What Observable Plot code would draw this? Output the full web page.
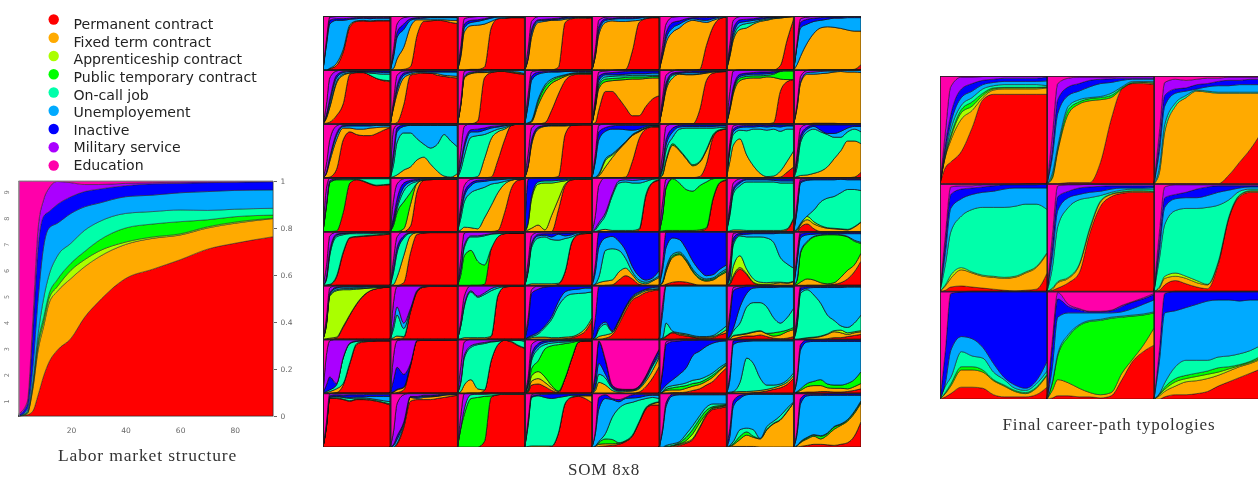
<!DOCTYPE html>
<html><head><meta charset="utf-8">
<script src="https://cdn.jsdelivr.net/npm/d3@7"></script>
<script src="https://cdn.jsdelivr.net/npm/@observablehq/plot@0.6"></script>
<style>
html,body{margin:0;padding:0;background:#fff}
#page{position:relative;width:1258px;height:481px;overflow:hidden;filter:blur(.35px)}
.at{position:absolute}
.cap{position:absolute;font-family:"Liberation Serif",serif;color:#333;white-space:nowrap;transform:translateX(-50%);font-size:17px;letter-spacing:.8px}
svg{display:block;max-width:none!important}
</style></head><body><div id="page"></div>
<script>
const states=["Permanent contract","Fixed term contract","Apprenticeship contract","Public temporary contract","On-call job","Unemployement","Inactive","Military service","Education"];
const stateColors=["#ff0000","#ffaa00","#aaff00","#00ff00","#00ffaa","#00aaff","#0000ff","#aa00ff","#ff00aa"];
const stateKeys=["R","O","A","P","C","U","I","M"];
// sample positions, percent of the observation window (all boundaries start at 0)
const T=[5,10,20,30,40,50,60,70,80,90,100];

// SOM 8x8: cumulative tops of each state, row by row
const s11={R:[0,2,8,33,80,90,91,90,91,91,91],O:[0,3,12,38,84,91,92,91,92,92,92],U:[45,85,92,92,94,95,96,95,96,96,96],I:[50,92,95,95,96,97,97,97,97,97,97],M:[55,98,99,100,100,100,100,100,100,100,100]};
const s12={R:[0,0,1,6,65,90,91,92,91,88,86],O:[3,20,42,80,93,93,93,93,93,92,92],U:[25,60,75,92,95,96,97,97,97,97,97],I:[30,70,85,95,97,98,98,98,98,98,98],M:[40,85,97,99,100,100,100,100,100,100,100]};
const s13={R:[0,0,1,1,5,78,95,96,97,97,97],O:[25,70,82,83,85,90,95,96,97,97,97],U:[30,78,88,90,93,96,98,98,98,98,98],I:[35,85,92,93,95,98,99,99,99,99,99],M:[45,95,98,99,100,100,100,100,100,100,100]};
const s14={R:[0,0,0,0,0,5,88,95,96,96,97],O:[20,60,88,90,92,92,94,96,97,97,97],U:[22,68,91,92,93,94,96,97,98,98,98],I:[25,75,93,94,95,96,98,99,99,99,99],M:[40,90,99,100,100,100,100,100,100,100,100]};
const s15={R:[0,0,0,0,0,1,35,88,95,97,97],O:[25,65,88,91,90,90,91,92,96,97,97],U:[28,72,92,94,95,95,95,96,98,98,98],I:[30,80,95,96,97,97,97,98,99,99,99],M:[40,92,98,99,100,100,100,100,100,100,100]};
const s16={R:[0,0,0,0,0,0,1,45,80,95,98],O:[25,50,70,78,88,92,90,88,92,96,98],U:[28,58,78,85,92,95,93,92,95,98,99],I:[33,68,88,91,95,97,97,97,98,99,99],M:[45,85,98,99,100,100,100,100,100,100,100]};
const s17={R:[0,0,0,0,0,0,0,0,8,55,95],O:[25,55,75,78,85,90,92,95,96,98,99],C:[28,60,82,86,88,92,94,96,97,98,99],U:[32,66,88,90,92,94,96,97,98,99,99],I:[36,76,93,94,95,97,98,98,99,99,100],M:[48,92,99,100,100,100,100,100,100,100,100]};
const s18={R:[0,0,0,0,0,0,0,0,0,1,10],O:[10,25,50,68,78,80,79,77,74,72,72],U:[45,78,85,90,92,94,96,96,97,97,97],I:[48,88,94,96,97,98,98,98,99,99,99],M:[52,95,98,99,99,100,100,100,100,100,100]};
const s21={R:[1,3,15,37,92,95,95,90,84,80,78],O:[10,30,75,90,94,95,95,90,84,81,80],C:[12,33,78,92,95,96,96,94,93,92,92],U:[15,40,85,95,97,97,97,96,96,95,95],I:[17,46,90,97,98,98,98,98,98,98,98],M:[35,85,98,100,100,100,100,100,100,100,100]};
const s22={R:[0,2,35,90,93,94,94,90,88,86,85],O:[30,55,85,92,95,95,94,93,90,89,88],U:[33,62,90,95,97,97,96,96,96,96,96],I:[36,70,94,97,98,98,98,98,98,98,98],M:[45,90,98,99,100,100,100,100,100,100,100]};
const s23={R:[0,0,0,5,85,95,97,97,95,93,91],O:[35,85,93,95,95,96,97,97,96,94,92],A:[36,86,94,96,96,97,98,98,97,96,93],U:[38,88,96,97,98,99,99,99,99,99,99],M:[42,97,100,100,100,100,100,100,100,100,100]};
const s24={R:[0,0,0,2,25,55,80,90,92,92,92],O:[1,3,35,60,75,82,88,92,93,93,93],P:[1,4,42,68,80,86,90,93,94,94,94],C:[2,6,46,72,83,88,91,94,95,95,95],U:[35,80,92,95,96,96,97,97,97,97,97],I:[40,88,96,97,98,98,98,99,99,99,99],M:[55,96,99,100,100,100,100,100,100,100,100]};
const s25={R:[2,25,60,60,47,30,15,15,32,46,52],O:[30,65,78,80,81,82,83,83,84,85,85],P:[33,70,83,84,85,86,87,87,87,88,88],C:[35,74,87,88,89,89,90,90,90,90,90],U:[38,80,91,91,91,92,93,93,93,94,94],I:[42,88,94,95,96,97,98,98,98,98,98],M:[50,96,98,99,100,100,100,100,100,100,100]};
const s26={R:[0,0,0,0,0,0,25,80,94,96,97],O:[30,62,85,92,91,91,92,94,96,97,97],C:[32,66,90,93,92,92,93,95,97,97,98],U:[34,70,92,94,95,95,95,96,98,98,98],I:[38,76,94,96,97,98,98,98,99,99,99],M:[50,90,98,100,100,100,100,100,100,100,100]};
const s27={R:[0,0,0,0,0,0,0,2,60,78,82],O:[25,55,80,84,85,85,87,86,83,82,82],P:[28,60,85,88,89,89,90,92,97,98,98],U:[30,63,88,91,92,92,93,94,98,99,99],I:[33,68,92,94,95,96,96,97,99,100,100],M:[60,98,100,100,100,100,100,100,100,100,100]};
const s28={R:[0,0,0,1,1,1,1,0,0,0,0],O:[30,75,92,92,93,94,96,97,96,96,95],U:[33,78,95,96,97,98,98,99,99,99,99],M:[38,88,99,100,100,100,100,100,100,100,100]};
const s31={R:[0,1,15,70,85,80,78,78,82,88,93],O:[7,30,70,92,92,90,90,92,93,94,94],U:[9,35,78,95,96,96,96,96,97,97,97],I:[10,38,82,97,98,98,98,98,98,98,98],M:[25,70,96,100,100,100,100,100,100,100,100]};
const s32={O:[2,5,14,20,33,38,25,12,3,1,8],C:[25,65,83,83,72,62,55,62,80,68,57],U:[40,85,95,97,97,97,97,97,97,97,97],I:[50,92,98,98,98,98,98,98,98,98,98],M:[90,98,100,100,100,100,100,100,100,100,100]};
const s33={R:[0,0,0,0,0,1,32,70,97,99,99],O:[0,0,0,2,35,72,85,90,97,99,99],C:[15,40,75,78,80,85,90,93,98,100,100],U:[25,55,85,85,88,92,94,96,99,100,100],I:[30,62,89,90,92,95,96,97,99,100,100],M:[50,95,100,100,100,100,100,100,100,100,100]};
const s34={R:[0,0,0,0,0,2,80,97,98,98,98],O:[20,60,90,95,96,96,96,97,98,98,98],U:[22,64,92,96,97,97,97,98,98,99,99],I:[25,70,94,97,98,98,98,99,99,99,99],M:[45,92,100,100,100,100,100,100,100,100,100]};
const s35={R:[0,0,0,0,0,1,30,72,90,94,94],O:[0,3,20,37,52,65,78,85,92,95,95],A:[0,5,32,42,53,66,79,86,92,95,95],C:[1,7,35,44,55,67,80,87,93,96,96],U:[30,70,86,90,90,89,88,90,95,97,97],I:[35,85,93,96,97,97,97,97,98,98,98],M:[45,97,100,100,100,100,100,100,100,100,100]};
const s36={R:[0,0,0,0,0,0,2,25,75,88,90],O:[5,30,60,50,35,22,28,50,78,88,90],P:[7,33,63,52,37,24,30,52,80,89,91],C:[15,50,75,90,92,92,92,92,92,93,93],U:[20,60,85,94,95,95,95,95,95,96,96],I:[25,70,92,97,98,98,98,98,98,98,98],M:[45,95,100,100,100,100,100,100,100,100,100]};
const s37={R:[0,0,0,0,0,0,0,0,1,10,20],O:[30,60,72,42,22,8,2,3,12,30,50],C:[50,80,88,87,90,90,88,90,86,90,90],U:[55,85,93,94,94,95,94,95,94,96,96],I:[58,90,96,97,97,98,97,98,98,98,98],M:[65,96,99,100,100,100,100,100,100,100,100]};
const s38={R:[0,0,0,0,0,0,0,0,0,1,10],O:[2,4,5,8,12,20,35,50,68,68,63],C:[20,65,85,90,85,80,75,75,85,90,85],U:[30,70,90,95,88,82,82,86,92,95,95],I:[35,78,94,98,98,98,98,98,98,98,98],M:[45,92,99,100,100,100,100,100,100,100,100]};
const s41={R:[0,0,1,35,90,96,93,88,85,86,87],P:[45,90,96,96,96,97,94,89,86,87,88],C:[48,92,97,98,98,98,98,98,98,98,98],U:[50,94,98,98,98,99,99,99,99,99,99],M:[80,99,100,100,100,100,100,100,100,100,100]};
const s42={R:[0,0,0,10,75,95,96,97,97,97,97],O:[0,0,5,50,90,96,97,97,97,97,97],P:[12,35,55,72,90,96,97,97,97,97,97],C:[16,42,75,88,93,97,98,98,98,98,98],U:[20,48,82,92,95,98,98,99,99,99,99],I:[28,60,90,95,97,99,99,99,99,99,99],M:[60,88,98,100,100,100,100,100,100,100,100]};
const s43={R:[0,0,0,0,0,0,2,35,80,95,97],O:[3,8,7,5,25,48,72,88,95,97,97],C:[25,55,72,78,82,88,90,93,96,97,98],U:[35,65,85,92,93,95,96,97,98,98,99],I:[40,72,90,95,96,97,98,98,99,99,99],M:[50,85,97,99,100,100,100,100,100,100,100]};
const s44={R:[0,0,0,0,0,40,85,96,97,97,97],O:[3,6,12,3,30,60,88,96,97,97,97],A:[15,60,88,90,90,92,94,97,98,98,98],C:[18,65,92,94,94,95,96,98,98,98,99],I:[97,99,100,100,100,100,100,100,100,100,100]};
const s45={R:[0,0,0,0,0,0,0,3,65,90,95],O:[0,2,4,2,2,2,2,5,68,91,96],C:[3,12,30,66,90,92,90,90,93,97,98],U:[6,16,35,70,94,96,95,96,97,98,99],M:[30,85,100,100,100,100,100,100,100,100,100]};
const s46={R:[0,0,0,0,0,0,1,5,60,90,95],O:[1,2,2,2,2,2,3,7,62,91,96],P:[30,80,98,90,78,75,85,92,98,99,99],C:[32,82,99,99,99,99,99,99,99,100,100],M:[55,97,100,100,100,100,100,100,100,100,100]};
const s47={R:[0,0,0,0,0,0,0,0,0,3,25],O:[1,3,3,2,2,2,2,2,2,5,26],C:[30,70,85,92,92,92,92,92,90,90,90],U:[35,75,90,96,96,96,96,95,94,94,94],I:[38,80,93,98,98,98,98,98,98,98,98],M:[50,90,98,100,100,100,100,100,100,100,100]};
const s48={R:[0,8,14,5,0,0,0,0,0,0,0],O:[2,12,22,14,9,6,5,4,3,8,17],A:[3,14,28,18,11,7,6,5,4,9,18],C:[5,15,29,40,55,62,65,72,78,78,76],U:[40,90,95,96,96,96,96,97,96,96,96],I:[45,93,97,98,98,98,98,98,98,98,98],M:[55,97,99,100,100,100,100,100,100,100,100]};
const s51={R:[0,1,15,60,88,90,91,92,93,94,95],O:[1,2,17,62,89,91,92,93,94,95,96],C:[10,55,90,94,96,96,96,96,97,97,97],U:[13,60,93,96,97,98,98,98,98,98,98],I:[15,65,95,97,98,99,99,99,99,99,99],M:[35,92,99,100,100,100,100,100,100,100,100]};
const s52={R:[0,0,5,60,95,97,98,98,98,98,98],O:[2,15,55,92,98,98,98,98,98,98,98],C:[25,60,88,97,98,99,99,99,99,99,99],I:[35,70,92,98,99,99,99,99,99,99,99],M:[50,90,100,100,100,100,100,100,100,100,100]};
const s53={R:[0,0,0,0,2,68,90,96,97,97,97],P:[20,55,65,45,38,68,90,96,97,97,97],C:[30,70,90,90,92,95,96,97,98,98,98],U:[32,75,92,92,94,96,97,98,98,98,99],M:[50,97,100,100,100,100,100,100,100,100,100]};
const s54={R:[0,0,0,0,0,2,25,80,94,96,97],O:[1,3,3,3,3,4,26,81,95,97,97],C:[25,70,88,90,85,84,87,90,96,98,98],U:[28,75,92,93,90,95,92,94,98,99,99],I:[30,78,95,96,96,97,97,97,99,99,99],M:[45,92,99,100,100,100,100,100,100,100,100]};
const s55={R:[0,0,0,1,10,18,12,2,0,0,0],O:[2,5,8,10,25,32,20,6,3,8,15],C:[3,15,65,68,65,50,25,10,6,10,18],U:[25,70,88,91,82,65,35,17,10,14,28],I:[40,99,100,100,100,100,100,100,100,100,100]};
const s56={R:[0,2,6,7,6,3,0,0,0,0,0],O:[5,25,52,57,45,25,12,8,10,18,25],P:[6,28,55,59,47,27,14,10,12,20,28],C:[7,32,58,62,50,30,17,12,14,23,31],U:[30,70,88,85,68,45,28,18,20,30,38],I:[42,99,100,100,100,100,100,100,100,100,100]};
const s57={R:[2,15,30,20,5,1,0,0,0,0,0],O:[3,18,33,22,6,2,2,3,5,4,7],A:[5,35,55,30,12,6,5,6,6,5,8],C:[15,75,92,90,90,90,88,80,52,40,32],U:[20,80,94,95,96,96,96,96,97,97,97],I:[30,88,97,98,98,98,98,98,98,98,98],M:[40,96,99,100,100,100,100,100,100,100,100]};
const s58={R:[0,0,0,0,0,1,2,5,12,25,45],O:[2,6,12,10,5,3,5,15,28,38,60],P:[10,60,80,90,93,94,94,93,90,82,78],C:[12,62,82,91,94,95,95,94,91,84,80],U:[45,88,94,95,96,96,96,96,96,96,96],I:[50,95,98,98,99,99,99,99,99,99,99],M:[60,99,100,100,100,100,100,100,100,100,100]};
const s61={R:[0,0,2,22,45,65,80,90,94,96,97],O:[1,2,4,24,46,66,81,90,94,96,97],A:[25,80,90,92,92,93,94,95,96,97,97],C:[27,82,92,94,94,95,95,96,97,97,98],U:[29,84,95,97,97,97,97,98,98,98,99],I:[30,86,97,98,98,99,99,99,99,99,99],M:[40,95,100,100,100,100,100,100,100,100,100]};
const s62={R:[0,1,3,50,88,97,98,98,98,98,98],O:[3,6,5,52,89,97,98,98,98,98,98],C:[20,45,20,55,90,98,98,98,98,98,98],U:[30,60,30,57,91,98,98,98,99,99,99],M:[70,98,100,100,100,100,100,100,100,100,100]};
const s63={R:[0,0,0,0,0,5,80,97,98,98,98],O:[1,3,3,3,3,6,81,97,98,98,98],C:[25,60,88,78,83,90,95,98,99,99,99],U:[27,64,90,80,86,94,98,99,99,99,99],M:[35,80,100,100,100,100,100,100,100,100,100]};
const s64={R:[0,0,0,0,0,0,1,3,7,15,35],O:[1,3,4,4,3,3,4,5,10,20,40],C:[3,5,10,22,37,62,78,84,85,86,88],U:[4,7,13,25,42,70,88,92,93,95,95],I:[30,85,93,97,98,99,99,99,99,99,99],M:[40,92,99,99,99,100,100,100,100,100,100]};
const s65={R:[0,0,2,8,28,53,73,80,87,90,92],O:[1,5,8,12,33,58,76,84,90,92,93],C:[4,18,28,14,35,60,78,86,92,93,94],U:[5,22,32,16,36,61,80,88,93,96,97],I:[40,98,100,100,100,100,100,100,100,100,100]};
const s66={R:[1,5,12,8,6,4,2,2,3,8,12],O:[2,6,13,10,8,5,4,4,5,10,18],C:[3,30,15,12,10,7,5,5,7,15,25],U:[50,99,100,100,100,100,100,100,100,100,100],M:[65,100,100,100,100,100,100,100,100,100,100]};
const s67={R:[0,1,4,6,6,8,5,2,1,2,5],O:[1,6,8,10,13,15,10,6,8,14,18],P:[1,7,9,11,14,16,11,12,14,17,22],C:[4,15,30,60,68,68,60,40,30,40,58],U:[6,20,60,85,95,96,96,96,97,97,97],I:[40,90,96,98,99,99,99,99,99,99,99],M:[50,96,99,100,100,100,100,100,100,100,100]};
const s68={R:[0,0,0,0,0,1,3,3,5,7,9],O:[0,1,2,3,5,9,14,12,9,12,14],A:[0,1,3,4,6,10,16,17,12,14,16],C:[25,85,92,82,67,45,35,25,22,30,45],U:[30,90,95,96,96,96,96,96,97,97,97],I:[35,95,98,98,98,98,98,98,98,98,98],M:[45,98,100,100,100,100,100,100,100,100,100]};
const s71={R:[0,0,1,15,55,90,95,96,97,97,97],O:[1,3,8,18,57,92,96,96,97,97,97],C:[3,6,15,65,92,96,97,97,98,98,98],I:[15,30,18,66,93,97,98,98,98,98,98],M:[70,97,100,100,100,100,100,100,100,100,100]};
const s72={R:[0,1,6,50,97,98,98,98,98,98,98],O:[2,6,10,52,98,98,98,98,98,98,98],U:[3,7,11,53,98,98,98,98,98,99,99],I:[25,48,35,55,98,99,99,99,99,99,99],M:[70,97,100,100,100,100,100,100,100,100,100]};
const s73={R:[0,0,0,0,5,60,90,98,95,88,83],O:[3,15,25,8,6,60,90,98,96,89,84],C:[20,65,85,90,92,95,96,99,98,98,96],U:[24,70,88,92,94,96,97,99,99,99,99],M:[50,95,100,100,100,100,100,100,100,100,100]};
const s74={R:[2,15,17,12,5,1,28,65,95,97,97],O:[4,22,27,20,10,3,28,65,95,97,97],A:[5,32,40,30,14,4,28,65,95,97,97],P:[7,45,60,82,88,90,92,94,97,98,98],C:[15,60,82,90,93,94,95,96,98,98,98],U:[18,65,87,94,96,97,97,98,99,99,99],I:[22,72,92,97,98,98,98,99,99,99,99],M:[30,90,98,99,100,100,100,100,100,100,100]};
const s75={R:[0,0,0,0,0,0,0,2,12,28,50],O:[5,20,15,5,2,3,4,8,22,42,67],C:[10,35,28,9,4,5,5,10,26,50,70],U:[15,55,35,11,5,6,6,11,28,52,75],I:[35,96,60,14,7,7,7,13,32,58,82],M:[38,97,62,15,8,7,7,13,32,58,82]};
const s76={R:[0,0,1,1,2,5,8,15,22,35,47],O:[2,5,6,6,9,13,16,22,30,42,52],P:[2,7,10,12,14,18,20,26,34,44,54],C:[3,10,14,16,19,24,26,31,38,48,56],U:[8,15,25,35,47,70,78,87,93,96,97],I:[40,90,96,97,98,98,99,99,99,99,99],M:[45,95,99,100,100,100,100,100,100,100,100]};
const s77={R:[0,0,0,0,1,2,4,7,10,16,28],O:[0,2,3,3,4,5,7,10,14,20,33],C:[2,3,20,65,55,28,15,15,17,24,38],U:[25,90,95,96,97,97,97,97,97,97,97],I:[35,97,99,99,99,99,99,99,99,99,99]};
const s78={R:[1,1,2,2,3,3,2,2,3,5,8],O:[2,5,12,14,14,10,9,9,8,12,18],P:[3,8,18,22,25,17,15,15,18,25,40],U:[25,80,95,96,96,96,96,96,96,96,96],I:[32,90,99,99,99,99,99,99,99,99,99]};
const s81={R:[36,90,90,88,85,88,88,87,85,82,78],O:[37,91,91,89,86,89,89,88,86,83,80],C:[38,92,93,92,90,91,91,90,88,86,84],U:[39,93,94,93,92,93,93,94,94,94,94],I:[40,95,97,96,97,97,97,98,98,98,98],M:[45,99,100,100,100,100,100,100,100,100,100]};
const s82={R:[0,5,36,85,88,88,88,90,92,94,96],O:[0,7,40,92,90,92,93,94,96,97,97],U:[3,14,44,93,92,94,94,95,97,98,98],I:[5,20,46,94,94,96,96,97,98,98,98],M:[30,80,97,100,100,100,100,100,100,100,100]};
const s83={R:[0,0,0,0,10,92,97,98,98,98,98],P:[35,60,90,92,94,95,97,98,98,98,98],C:[37,70,97,98,98,99,99,99,99,99,99],M:[60,99,100,100,100,100,100,100,100,100,100]};
const s84={R:[0,0,0,0,1,25,80,92,94,90,82],O:[1,2,2,2,2,26,81,93,95,95,95],C:[40,92,95,92,90,92,94,96,96,96,96],I:[45,94,97,98,99,99,99,99,99,99,99],M:[50,97,100,100,100,100,100,100,100,100,100]};
const s85={R:[0,1,2,3,5,10,20,45,70,78,78],O:[2,5,6,6,7,11,21,46,72,80,83],P:[2,8,15,14,8,12,22,47,73,81,84],C:[2,10,25,55,72,80,83,87,90,92,90],U:[25,70,90,88,84,90,91,92,95,96,96],I:[30,92,97,90,88,92,97,98,98,98,98]};
const s86={R:[0,0,1,3,7,14,35,58,70,72,75],O:[0,1,3,5,9,16,37,60,72,74,77],A:[0,1,3,6,12,25,45,62,73,75,78],P:[0,1,3,8,18,33,52,68,75,77,79],C:[0,3,6,10,24,40,58,74,80,80,80],U:[30,75,95,97,97,97,97,97,97,97,97],I:[35,82,98,98,98,98,98,98,98,98,98]};
const s87={R:[0,1,1,1,1,0,0,0,0,0,0],O:[1,4,14,22,18,15,32,43,50,65,83],P:[2,6,20,28,20,16,33,44,51,66,83],C:[3,10,32,35,32,16,38,48,58,72,84],U:[20,75,90,97,98,98,98,98,98,98,98],I:[35,85,96,98,99,99,99,99,99,99,99]};
const s88={R:[0,1,3,5,5,4,3,5,8,20,47],O:[2,8,15,20,15,22,33,40,48,62,82],P:[2,9,17,22,20,25,37,42,50,65,84],C:[3,10,18,23,21,26,38,43,51,66,86],U:[25,80,95,96,96,96,96,96,96,96,96],I:[32,90,98,98,98,99,99,99,99,99,99]};
const somPanels=[[s11,s12,s13,s14,s15,s16,s17,s18],[s21,s22,s23,s24,s25,s26,s27,s28],[s31,s32,s33,s34,s35,s36,s37,s38],[s41,s42,s43,s44,s45,s46,s47,s48],[s51,s52,s53,s54,s55,s56,s57,s58],[s61,s62,s63,s64,s65,s66,s67,s68],[s71,s72,s73,s74,s75,s76,s77,s78],[s81,s82,s83,s84,s85,s86,s87,s88]];

// Final typologies 3x3
const f11={R:[15,20,30,52,78,83,83,83,83,83,83],O:[25,40,60,68,80,87,88,88,88,88,89],A:[26,43,66,72,82,88,89,89,89,89,89.5],P:[27,45,69,76,84,89,89.5,89.5,89.5,89.5,90],C:[29,50,73,80,88,91,92,92,92,92,91],U:[32,56,80,86,92,94,95,95,95,95,95.5],I:[37,64,88,93,96,97,98,98,98,98,99],M:[48,90,99,99,99.5,100,100,100,100,100,100]};
const f12={R:[0,0,1,1,1,20,60,88,93,93,92],O:[5,30,65,74,77,78,80,88,93.5,94,93],P:[7,32,69,76,79,80,82,89,94,94.5,94],C:[10,35,72,78,80,81,84,90,95,95,95],U:[25,65,82,86,90,93,94,96,97,97,97],I:[32,78,90,93,96,97,97.5,98,98,98,98],M:[45,93,98,99,99,99,99,99.5,99.5,99.5,99.5]};
const f13={R:[0,0,0,0,0,0,0,8,20,32,47],O:[10,48,72,80,86,85,84,84,84,84,84],C:[15,55,75,82,87,86,85,85,85,85,85],U:[30,72,84,86,88,90,91,91,92,92,92],I:[38,82,88,89,92,93,95,96,96,97,97],M:[48,94,97,96,97,98,98,99,99,99,99]};
const f21={R:[1,4,5,4,3,2,1,0.5,1,2,17],O:[5,12,20,17,14,13,12,13,17,22,35],A:[6,15,22,18,15,14,13,14,18,23,36],C:[25,55,70,76,78,78,78,79,81,81,76],U:[36,77,86,90,92,93,95,96,96,96,96],I:[45,90,95,96,97,98,99,99,99,99,100],M:[52,97,98,98,99,99,99.5,99.5,100,100,100]};
const f22={R:[1,3,8,17,54,79,88,91,92,92,92],O:[2,8,12,24,58,83,90,92,93,93,92.5],A:[3,9,13,25,59,84,90.5,92.5,93.5,93.5,93],C:[22,60,78,85,87,89,92,94,95,95,95],U:[33,75,87,90,92,93,95,96,96,96,96.5],I:[42,88,93,96,97,97.5,98,98,98,98,98],M:[52,98,99,99,99.5,99.5,99.5,99.5,99.5,99.5,99.5]};
const f23={R:[1,6,10,7,4,2.5,25,68,88,92,92],O:[3,12,14,12,8,6,27,69,89,93,93],A:[4,14,17,14,10,6.5,27.5,69.5,89.5,93.5,93.5],C:[30,62,75,77,77,78,80,85,93,95,95],U:[38,78,86,87,87,89,92,94,96,97,97],I:[45,87,90,92,95,97,98,98,98,98,98],M:[55,97,99,99,99,99,99,99,99,99,99]};
const f31={R:[2,5,11,11,10,4,2,2,2,4,11],O:[5,12,27,27,25,17,12,7,5,10,22],P:[6,14,30,30,27,18,13,8,6,11,23],C:[12,20,44,40,38,25,18,10,8,14,26],U:[15,45,58,56,48,33,20,13,10,17,35],I:[45,98,99.5,100,100,100,100,100,100,100,100]};
const f32={R:[1,3,3,2,2,1,3,18,35,44,50],O:[8,18,15,10,6,4,6,24,37,50,66],P:[15,40,58,68,72,73,75,76,77,78,80],C:[16,42,60,69,73,74,76,77,78,79,81],U:[30,76,80,80,80,80,80,81,84,88,92],I:[50,93,86,83,81,81,82,86,90,93,97],M:[55,99,88,84,81.5,81.5,82.5,87,90.5,94,98]};
const f33={R:[0,2,4,4,5,7,12,16,20,24,28],O:[3,7,12,16,17,19,22,26,30,33,37],A:[4,9,16,19,21,23,25,28,31,34,38],P:[4.5,11,19,22,24,26,29,30,32,35,40],C:[5,15,30,36,36,36,39,40,42,45,50],U:[35,80,82,85,88,91,92,92,91,92,92],I:[45,98,100,100,100,100,100,100,100,100,100]};
const finalPanels=[[f11,f12,f13],[f21,f22,f23],[f31,f32,f33]];

// Labor market structure
const months=[1,4,6,8,10,12,15,20,25,30,40,50,60,70,80,94];
const lmR=[0,.005,.02,.09,.17,.23,.28,.33,.42,.485,.585,.625,.665,.71,.735,.763];
const lmO=[0,.01,.11,.28,.38,.48,.53,.585,.635,.675,.73,.756,.77,.80,.82,.84];
const lmA=[0,.012,.12,.30,.40,.50,.55,.62,.665,.70,.74,.762,.775,.805,.825,.842];
const lmP=[0,.015,.13,.32,.42,.52,.58,.65,.70,.745,.80,.817,.827,.835,.848,.855];
const lmC=[0,.02,.14,.35,.50,.60,.68,.735,.79,.825,.862,.87,.877,.875,.88,.884];
const lmU=[0,.03,.20,.50,.72,.80,.82,.862,.89,.905,.933,.94,.95,.955,.96,.962];
const lmI=[.005,.05,.35,.72,.85,.87,.90,.933,.955,.965,.98,.988,.99,.993,.995,.997];
const lmM=[.01,.06,.40,.80,.92,.97,.998,.993,.985,.985,.99,.993,.995,.996,.997,.998];
const lmTops=[lmR,lmO,lmA,lmP,lmC,lmU,lmI,lmM];
const xTicks=[20,40,60,80];
const yTicks=[0,.2,.4,.6,.8,1];
const clusterIds=[1,2,3,4,5,6,7,8,9];

const colorScale={domain:states,range:stateColors};
const page=document.getElementById("page");
function place(node,left,top){const d=document.createElement("div");d.className="at";d.style.left=left+"px";d.style.top=top+"px";d.appendChild(node);page.appendChild(d);}
function caption(text,cx,cy,size,ls){const d=document.createElement("div");d.className="cap";d.textContent=text;d.style.left=cx+"px";d.style.top=cy+"px";if(size)d.style.fontSize=size+"px";if(ls!=null)d.style.letterSpacing=ls+"px";page.appendChild(d);}

function panelRows(panels){
  const out=[];
  panels.forEach((line,row)=>line.forEach((p,col)=>{
    let prev=T.map(()=>0);
    stateKeys.forEach((k,i)=>{
      if(!p[k])return;
      const base=prev,top=p[k].map((v,j)=>Math.max(v,base[j]));
      out.push({row,col,state:states[i],t:0,y1:0,y2:0});
      T.forEach((t,j)=>out.push({row,col,state:states[i],t,y1:base[j],y2:top[j]}));
      prev=top;
    });
    out.push({row,col,state:states[8],t:0,y1:0,y2:100});
    T.forEach((t,j)=>out.push({row,col,state:states[8],t,y1:prev[j],y2:100}));
  }));
  return out;
}
function grid(panels,width,height,sw){
  return Plot.plot({width,height,margin:0,
    x:{domain:[0,100],axis:null},y:{domain:[0,100],axis:null},
    fx:{axis:null,padding:0,round:false,domain:d3.range(panels[0].length)},
    fy:{axis:null,padding:0,round:false,domain:d3.range(panels.length)},
    color:colorScale,
    marks:[
      Plot.areaY(panelRows(panels),{x:"t",y1:"y1",y2:"y2",fill:"state",fx:"col",fy:"row",z:"state",curve:"monotone-x",stroke:"#111",strokeWidth:sw}),
      Plot.frame({stroke:"#222",strokeWidth:sw+.3})
    ]});
}

// Labor market chart
const lmRows=[];
let lmPrev=months.map(()=>0);
lmTops.forEach((top,i)=>{months.forEach((m,j)=>lmRows.push({state:states[i],m,y1:lmPrev[j],y2:top[j]}));lmPrev=top;});
months.forEach((m,j)=>lmRows.push({state:states[8],m,y1:lmPrev[j],y2:1}));
place(Plot.plot({width:300,height:281,marginLeft:19,marginRight:27,marginTop:11,marginBottom:35,
  x:{domain:[1,94],axis:null},y:{domain:[0,1],axis:null},color:colorScale,
  style:{fontFamily:"DejaVu Sans",fontSize:"7.5px",color:"#666"},
  marks:[
    Plot.areaY(lmRows,{x:"m",y1:"y1",y2:"y2",fill:"state",z:"state",curve:"monotone-x",stroke:"#222",strokeWidth:.5}),
    Plot.frame({stroke:"#888",strokeWidth:.6}),
    Plot.axisX({ticks:xTicks,tickSize:0,tickPadding:11,label:null,color:"#666"}),
    Plot.axisY({anchor:"right",ticks:yTicks,tickSize:3,tickPadding:4,tickFormat:d=>d,label:null,color:"#666"}),
    Plot.text(clusterIds,{text:d=>d,y:d=>(d-.5)/9,frameAnchor:"left",dx:-13,rotate:-90,fontSize:6.5,fill:"#777"})
  ]}),0,170);
caption("Labor market structure",147.5,445,17.5,.85);

// Legend: markers and labels sit on slightly different rows, as in the source figure
place(Plot.plot({width:70,height:176,margin:0,x:{axis:null,domain:[0,1]},y:{type:"point",padding:0,round:false,domain:states,range:[19,165],axis:null},color:colorScale,
  marks:[Plot.dot(states,{y:d=>d,x:.76,fill:d=>d,r:5.2})]}),0,0);
place(Plot.plot({width:230,height:176,margin:0,x:{axis:null,domain:[0,1]},y:{type:"point",padding:0,round:false,domain:states,range:[24,165],axis:null},
  style:{fontFamily:"DejaVu Sans"},
  marks:[Plot.text(states,{y:d=>d,text:d=>d,frameAnchor:"left",textAnchor:"start",fontSize:14.1,fill:"#222"})]}),73,0);

// SOM 8x8
place(grid(somPanels,538,431,.7),323,16);
caption("SOM 8x8",604,460,17,.8);

// Final typologies
place(grid(finalPanels,321,323,.5),940,76);
caption("Final career-path typologies",1109,415,17,.8);
</script></body></html>
